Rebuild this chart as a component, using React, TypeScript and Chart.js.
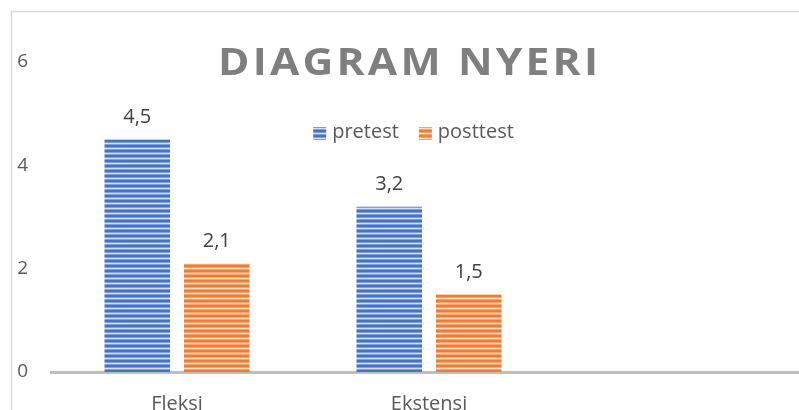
import React, { useEffect, useRef } from 'react';
import { Chart, registerables } from 'chart.js';

Chart.register(...registerables);

const title = 'DIAGRAM NYERI';
const categories = ['Fleksi', 'Ekstensi', ''];
const seriesNames = ['pretest', 'posttest'];
const pretestValues = [4.5, 3.2, null];
const posttestValues = [2.1, 1.5, null];
const yMin = 0;
const yMax = 6;
const yStep = 2;

const FONT = "'Open Sans', sans-serif";
const W = 860;
const H = 430;

function stripe(ctx: CanvasRenderingContext2D, rows: string[]) {
  const c = document.createElement('canvas');
  c.width = 4;
  c.height = rows.length;
  const g = c.getContext('2d')!;
  rows.forEach((col, i) => {
    g.fillStyle = col;
    g.fillRect(0, i, 4, 1);
  });
  return ctx.createPattern(c, 'repeat')!;
}

const fmt = (v: number) => String(v).replace('.', ',');

export default function App() {
  const ref = useRef<HTMLCanvasElement>(null);

  useEffect(() => {
    const canvas = ref.current!;
    const ctx = canvas.getContext('2d')!;
    const blue = stripe(ctx, ['#4472C4', '#4472C4', '#7f9fd8', '#d3dff3', '#7f9fd8']);
    const orange = stripe(ctx, ['#ED7D31', '#ED7D31', '#f3a470', '#fbdcc6', '#f3a470']);
    const fills = [blue, orange];

    const framePlugin = {
      id: 'frame',
      beforeDraw(chart: any) {
        const c = chart.ctx;
        c.save();
        c.strokeStyle = '#d9d9d9';
        c.lineWidth = 1.5;
        c.beginPath();
        c.moveTo(11.5, H);
        c.lineTo(11.5, 11.5);
        c.lineTo(W, 11.5);
        c.stroke();
        c.restore();
      },
    };

    const titleLegendPlugin = {
      id: 'titleLegend',
      afterDraw(chart: any) {
        const c = chart.ctx;
        c.save();
        // title, slightly widened glyphs with uniform letter spacing
        c.font = `bold 38px ${FONT}`;
        c.fillStyle = '#7f7f7f';
        c.textAlign = 'left';
        c.textBaseline = 'alphabetic';
        const sx = 1.12;
        const left = 218;
        const right = 598;
        (c as any).letterSpacing = '0px';
        const base = c.measureText(title).width;
        const sp = ((right - left) / sx - base) / (title.length - 1);
        (c as any).letterSpacing = `${sp}px`;
        c.save();
        c.translate(left, 75);
        c.scale(sx, 1);
        c.fillText(title, 0, 0);
        c.restore();
        (c as any).letterSpacing = '0px';
        // legend
        c.font = `20px ${FONT}`;
        const box = 13;
        const gap = 6;
        const itemGap = 20;
        const widths = seriesNames.map((s) => c.measureText(s).width);
        const total = widths.reduce((a, w) => a + box + gap + w, 0) + itemGap * (seriesNames.length - 1);
        let x = 413.5 - total / 2;
        seriesNames.forEach((s, i) => {
          c.fillStyle = fills[i];
          c.fillRect(x, 127, box, box);
          c.fillStyle = '#595959';
          c.fillText(s, x + box + gap, 138);
          x += box + gap + widths[i] + itemGap;
        });
        c.restore();
      },
    };

    const labelPlugin = {
      id: 'dataLabels',
      afterDatasetsDraw(chart: any) {
        const c = chart.ctx;
        c.save();
        c.font = `20px ${FONT}`;
        c.fillStyle = '#404040';
        c.textAlign = 'center';
        c.textBaseline = 'alphabetic';
        chart.data.datasets.forEach((ds: any, di: number) => {
          const meta = chart.getDatasetMeta(di);
          meta.data.forEach((el: any, i: number) => {
            const v = ds.data[i];
            if (v === null || v === undefined) return;
            c.fillText(fmt(v), el.x, el.y - 17);
          });
        });
        c.restore();
      },
    };

    const chart = new Chart(canvas, {
      type: 'bar',
      data: {
        labels: categories,
        datasets: [
          { label: seriesNames[0], data: pretestValues, backgroundColor: blue, categoryPercentage: 0.631, barPercentage: 0.824 },
          { label: seriesNames[1], data: posttestValues, backgroundColor: orange, categoryPercentage: 0.631, barPercentage: 0.824 },
        ] as any,
      },
      options: {
        responsive: false,
        animation: false,
        devicePixelRatio: 1,
        layout: { padding: { left: 0, right: W - 807, top: 62, bottom: 0 } },
        plugins: {
          legend: { display: false },
          title: { display: false },
          tooltip: { enabled: false },
        },
        scales: {
          x: {
            grid: { display: false, drawTicks: false },
            border: { display: true, color: '#bfbfbf', width: 3 },
            ticks: { color: '#595959', font: { family: FONT, size: 20 }, padding: 20 },
            afterFit(scale: any) {
              scale.height = H - 372;
            },
          },
          y: {
            min: yMin,
            max: yMax,
            grid: { display: false, drawTicks: false },
            border: { display: false },
            ticks: { stepSize: yStep, color: '#595959', font: { family: FONT, size: 19 }, padding: 23 },
            afterFit(scale: any) {
              scale.width = 51;
            },
          },
        },
      },
      plugins: [framePlugin, titleLegendPlugin, labelPlugin],
    } as any);

    return () => chart.destroy();
  }, []);

  return (
    <div style={{ position: 'fixed', left: 0, top: 0, width: 799, height: 410, overflow: 'hidden', background: '#fff' }}>
      <canvas ref={ref} width={W} height={H} style={{ display: 'block', width: W, height: H }} />
    </div>
  );
}
